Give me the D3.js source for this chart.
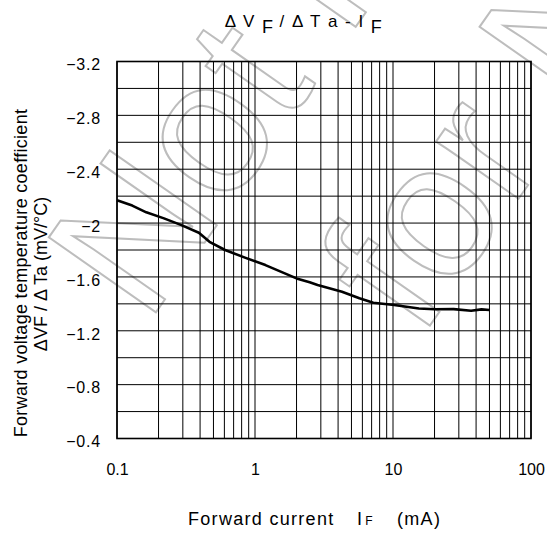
<!DOCTYPE html>
<html>
<head>
<meta charset="utf-8">
<script src="https://cdn.jsdelivr.net/npm/d3@7"></script>
<style>
  body { margin: 0; background: #fff; }
  text { font-family: "Liberation Sans", Arial, sans-serif; fill: #000; }
</style>
</head>
<body>
<svg id="chart"></svg>
<script>
// forward current (mA) vs dVF/dTa (mV/°C)
const currentMA = [0.1, 0.129, 0.163, 0.219, 0.293, 0.392, 0.468, 0.607, 0.836, 1.19, 2.0, 2.49, 2.84, 4.27, 5.71, 7.2, 10.2, 15.4, 20, 27.5, 36.8, 43.8, 50];
const coefMV = [-2.17, -2.13, -2.08, -2.035, -1.985, -1.928, -1.861, -1.80, -1.745, -1.688, -1.589, -1.56, -1.54, -1.49, -1.441, -1.408, -1.391, -1.366, -1.36, -1.361, -1.349, -1.359, -1.354];

const xTickLabels = [0.1, 1, 10, 100];
const yTickLabels = [-3.2, -2.8, -2.4, -2, -1.6, -1.2, -0.8, -0.4];

const width = 547, height = 534;
const plot = {left: 117, right: 531, top: 61.5, bottom: 438.5};

const svg = d3.select('#chart')
    .attr('width', width)
    .attr('height', height);

const x = d3.scaleLog()
    .domain([0.1, 100])
    .range([plot.left, plot.right]);

const y = d3.scaleLinear()
    .domain([-3.2, -0.4])
    .range([plot.top, plot.bottom]);

// watermark (outlined grey text)
const wm = svg.append('g')
    .attr('transform', 'translate(147,325) rotate(-55)')
    .attr('fill', 'none')
    .attr('stroke', '#bdbdbd')
    .attr('stroke-width', 2);
wm.append('text')
    .attr('x', 0).attr('y', 0)
    .attr('font-size', 190)
    .style('fill', 'none')
    .text('Not Recommended');
wm.append('text')
    .attr('x', 145).attr('y', 232)
    .attr('font-size', 190)
    .style('fill', 'none')
    .text('for New Design');

// grid
const grid = svg.append('g').attr('stroke', '#000').attr('stroke-width', 1);
grid.selectAll('.vline')
  .data(x.ticks())
  .enter().append('line')
    .attr('class', 'vline')
    .attr('x1', d => x(d)).attr('x2', d => x(d))
    .attr('y1', plot.top).attr('y2', plot.bottom);
grid.selectAll('.hline')
  .data(y.ticks(14))
  .enter().append('line')
    .attr('class', 'hline')
    .attr('x1', plot.left).attr('x2', plot.right)
    .attr('y1', d => y(d)).attr('y2', d => y(d));

svg.append('rect')
    .attr('x', plot.left).attr('y', plot.top)
    .attr('width', plot.right - plot.left)
    .attr('height', plot.bottom - plot.top)
    .attr('fill', 'none')
    .attr('stroke', '#000')
    .attr('stroke-width', 1.6);

// axes (labels only)
const xAxis = svg.append('g')
    .attr('transform', 'translate(0,' + plot.bottom + ')')
    .call(d3.axisBottom(x).tickValues(xTickLabels).tickSize(0).tickPadding(25).tickFormat(d3.format('~g')));
xAxis.select('.domain').remove();
xAxis.selectAll('text').attr('font-size', 16).attr('font-family', null);

const yAxis = svg.append('g')
    .attr('transform', 'translate(' + plot.left + ',0)')
    .call(d3.axisLeft(y).tickValues(yTickLabels).tickSize(0).tickPadding(16).tickFormat(d3.format('~g')));
yAxis.select('.domain').remove();
yAxis.selectAll('text')
    .attr('font-size', 16)
    .attr('font-family', null)
    .attr('letter-spacing', 0.8)
    .attr('dy', '0.52em');

// curve
const line = d3.line()
    .x((d, i) => x(currentMA[i]))
    .y(d => y(d));

svg.append('path')
    .datum(coefMV)
    .attr('d', line)
    .attr('fill', 'none')
    .attr('stroke', '#000')
    .attr('stroke-width', 2.6)
    .attr('stroke-linejoin', 'round');

// title
const title = svg.append('text')
    .attr('x', 304).attr('y', 26.7)
    .attr('text-anchor', 'middle')
    .attr('font-size', 17)
    .attr('letter-spacing', 1.5);
title.append('tspan').text('Δ V ');
title.append('tspan').attr('dy', 6.5).attr('font-size', 18).text('F');
title.append('tspan').attr('dy', -6.5).attr('dx', 5).text('/ Δ T a - I');
title.append('tspan').attr('dy', 6.5).attr('dx', 6).attr('font-size', 18).text('F');

// x axis title
const xTitle = svg.append('text')
    .attr('x', 188).attr('y', 525)
    .attr('font-size', 18)
    .attr('letter-spacing', 1.3);
xTitle.append('tspan').text('Forward current');
xTitle.append('tspan').attr('x', 357).text('I');
xTitle.append('tspan').attr('dx', 2).attr('font-size', 12).attr('letter-spacing', 0).text('F');
xTitle.append('tspan').attr('x', 397).text('(mA)');

// y axis title
svg.append('text')
    .attr('transform', 'translate(27,273) rotate(-90)')
    .attr('text-anchor', 'middle')
    .attr('font-size', 18)
    .attr('letter-spacing', 0.3)
    .text('Forward voltage temperature coefficient');
svg.append('text')
    .attr('transform', 'translate(47,274) rotate(-90)')
    .attr('text-anchor', 'middle')
    .attr('font-size', 18)
    .text('ΔVF / Δ Ta (mV/°C)');
</script>
</body>
</html>
